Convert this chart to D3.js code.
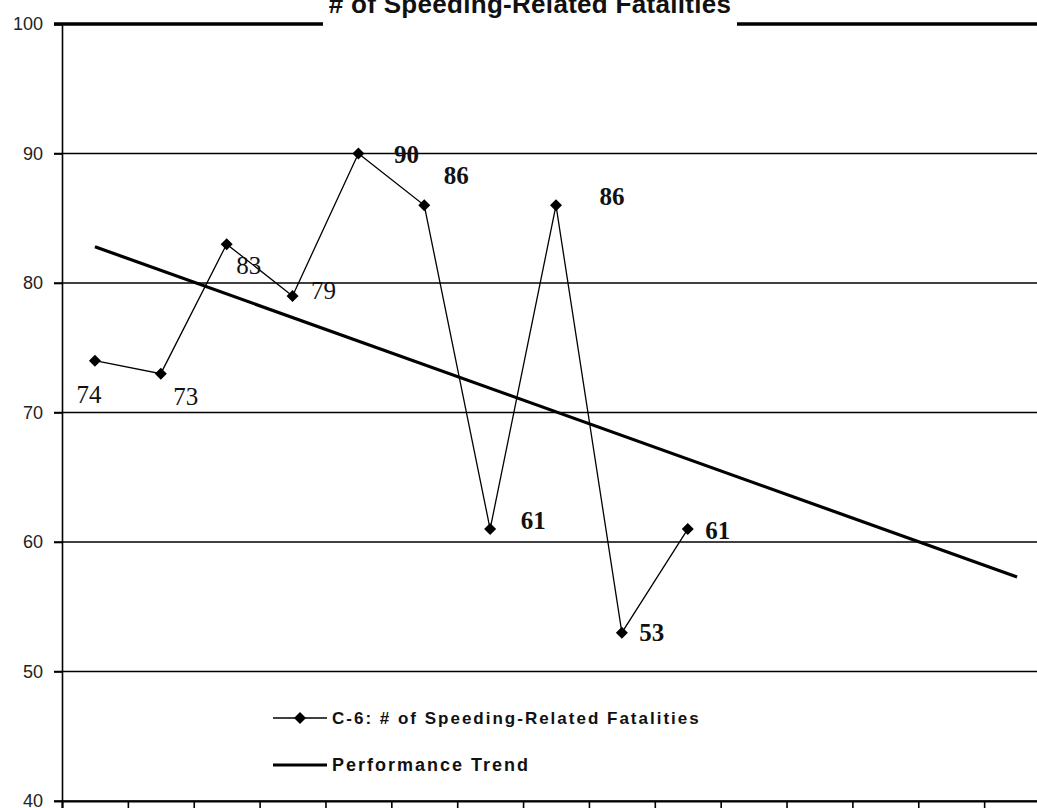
<!DOCTYPE html>
<html>
<head>
<meta charset="utf-8">
<script src="https://cdn.jsdelivr.net/npm/d3@7"></script>
<style>
  html, body { margin: 0; padding: 0; background: #fff; overflow: hidden; }
  svg { display: block; }
</style>
</head>
<body>
<svg id="chart"></svg>
<script>
// Data
const years = ["1997", "1998", "1999", "2000", "2001", "2002", "2003", "2004",
               "2005", "2006", "2007", "2008", "2009", "2010", "2011"];
const fatalities = [74, 73, 83, 79, 90, 86, 61, 86, 53, 61];
const trendEnds = [82.8, 57.3];          // trend value at first and last category
const yTicks = [40, 50, 60, 70, 80, 90, 100];

// label placement (dx, dy from the marker, bold?)
const labelPos = [
  [-6, 42, false], [25, 31, false], [22, 30, false], [31, 3, false],
  [48, 9, true], [32, -21, true], [43, 0, true], [56, 0, true],
  [30, 8, true], [30, 10, true]
];

const width = 1037;
const height = 808;
const plotLeft = 62, plotRight = 1050, plotTop = 24, plotBottom = 801;

var svg = d3.select("#chart")
    .attr("width", width)
    .attr("height", height)
    .attr("viewBox", [0, 0, width, height]);

// category boundaries on a linear scale so ticks fall between categories
var xLin = d3.scaleLinear().domain([0, years.length]).range([plotLeft, plotRight]);
var xc = i => xLin(i + 0.5);
var y = d3.scaleLinear().domain([40, 100]).range([plotBottom, plotTop]);

// gridlines
svg.append("g")
    .selectAll("line")
    .data(yTicks)
    .enter()
    .append("line")
    .attr("x1", plotLeft - 8)
    .attr("x2", width)
    .attr("y1", d => y(d))
    .attr("y2", d => y(d))
    .attr("stroke", "#000")
    .attr("stroke-width", d => d === 100 ? 3.5 : 1.7);

// y axis
var yAxis = svg.append("g")
    .attr("transform", `translate(${plotLeft},0)`)
    .call(d3.axisLeft(y).tickValues(yTicks).tickSize(8).tickPadding(11));
yAxis.select(".domain").attr("stroke", "#000").attr("stroke-width", 1.6);
yAxis.selectAll(".tick line").attr("stroke-width", 1.6);
yAxis.selectAll("text")
    .attr("font-family", "Liberation Sans, Arial, sans-serif")
    .attr("font-size", "18px")
    .attr("fill", "#222");

// x axis ticks (labels fall below the picture)
var xAxis = svg.append("g")
    .attr("transform", `translate(0,${plotBottom})`)
    .call(d3.axisBottom(xLin).tickValues(d3.range(years.length + 1)).tickSize(10).tickFormat(""));
xAxis.select(".domain").attr("stroke-width", 2);
xAxis.selectAll(".tick line").attr("stroke-width", 1.6);

// title box covering the top line
svg.append("rect")
    .attr("x", 323).attr("y", 0)
    .attr("width", 414).attr("height", 30)
    .attr("fill", "#fff");
svg.append("text")
    .attr("x", 530)
    .attr("y", 13)
    .attr("text-anchor", "middle")
    .attr("font-family", "Liberation Sans, Arial, sans-serif")
    .attr("font-weight", "bold")
    .attr("font-size", "26px")
    .attr("letter-spacing", "0.3px")
    .attr("fill", "#111")
    .text("# of Speeding-Related Fatalities");

// performance trend
svg.append("line")
    .attr("x1", xc(0))
    .attr("y1", y(trendEnds[0]))
    .attr("x2", xc(years.length - 1))
    .attr("y2", y(trendEnds[1]))
    .attr("stroke", "#000")
    .attr("stroke-width", 3.2);

// series line
var line = d3.line()
    .x((d, i) => xc(i))
    .y(d => y(d));

svg.append("path")
    .datum(fatalities)
    .attr("d", line)
    .attr("fill", "none")
    .attr("stroke", "#000")
    .attr("stroke-width", 1.3);

var diamond = d3.symbol().type(d3.symbolSquare).size(72);

svg.append("g")
    .selectAll("path")
    .data(fatalities)
    .enter()
    .append("path")
    .attr("d", diamond)
    .attr("transform", (d, i) => `translate(${xc(i)},${y(d)}) rotate(45)`)
    .attr("fill", "#000");

// data labels
svg.append("g")
    .selectAll("text")
    .data(fatalities)
    .enter()
    .append("text")
    .attr("x", (d, i) => xc(i) + labelPos[i][0])
    .attr("y", (d, i) => y(d) + labelPos[i][1])
    .attr("text-anchor", "middle")
    .attr("font-family", "Liberation Serif, Times New Roman, serif")
    .attr("font-size", "25px")
    .attr("font-weight", (d, i) => labelPos[i][2] ? "bold" : "normal")
    .attr("fill", "#111")
    .text(d => d);

// legend
var legend = svg.append("g").attr("transform", "translate(273,0)");

legend.append("line")
    .attr("x1", 0).attr("x2", 54)
    .attr("y1", 718).attr("y2", 718)
    .attr("stroke", "#000").attr("stroke-width", 1.5);
legend.append("path")
    .attr("d", diamond)
    .attr("transform", "translate(27,718) rotate(45)")
    .attr("fill", "#000");
legend.append("text")
    .attr("x", 59).attr("y", 724)
    .attr("font-family", "Liberation Sans, Arial, sans-serif")
    .attr("font-weight", "bold")
    .attr("font-size", "17px")
    .attr("letter-spacing", "2px")
    .attr("fill", "#111")
    .text("C-6: # of Speeding-Related Fatalities");

legend.append("line")
    .attr("x1", 0).attr("x2", 54)
    .attr("y1", 765).attr("y2", 765)
    .attr("stroke", "#000").attr("stroke-width", 3);
legend.append("text")
    .attr("x", 59).attr("y", 771)
    .attr("font-family", "Liberation Sans, Arial, sans-serif")
    .attr("font-weight", "bold")
    .attr("font-size", "18px")
    .attr("letter-spacing", "2px")
    .attr("fill", "#111")
    .text("Performance Trend");
</script>
</body>
</html>
